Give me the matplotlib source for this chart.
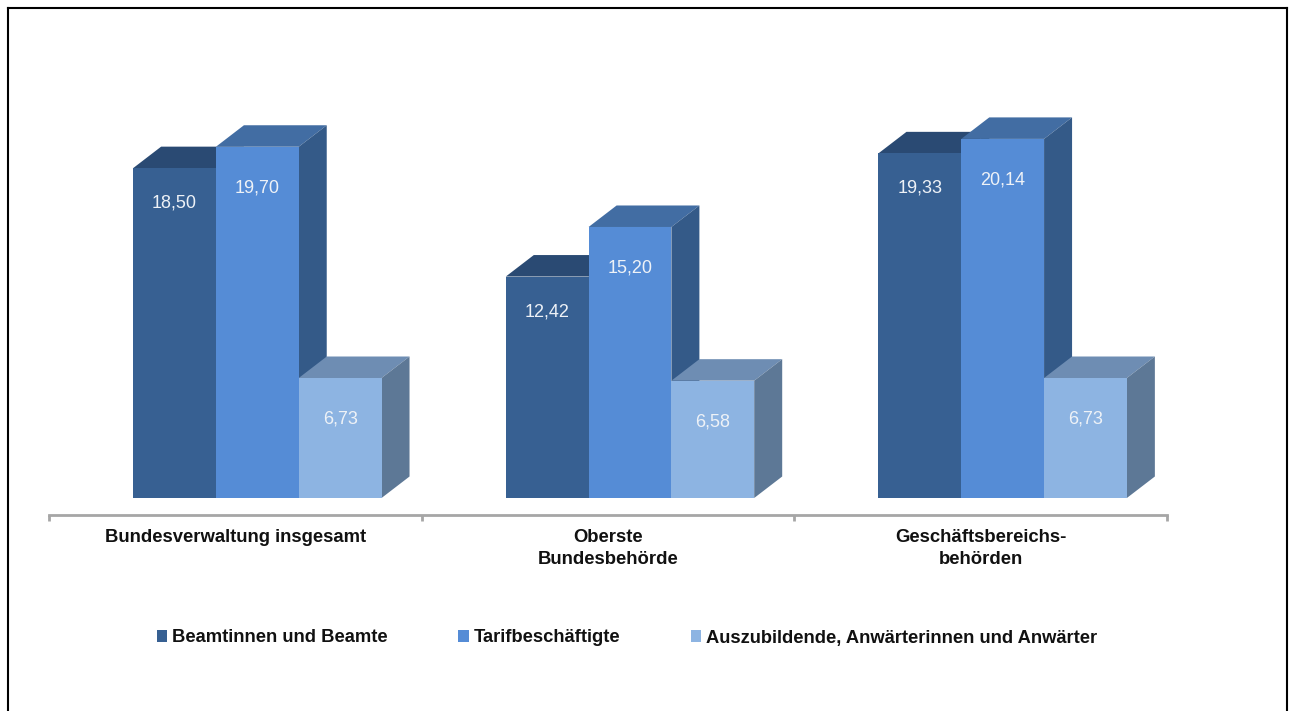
import matplotlib
matplotlib.use("Agg")
import matplotlib.pyplot as plt
from matplotlib.lines import Line2D
from matplotlib.patches import Patch, Polygon

categories = ["Bundesverwaltung insgesamt", "Oberste\nBundesbehörde", "Geschäftsbereichs-\nbehörden"]
series_names = ["Beamtinnen und Beamte", "Tarifbeschäftigte", "Auszubildende, Anwärterinnen und Anwärter"]
beamte = [18.50, 12.42, 19.33]
tarif = [19.70, 15.20, 20.14]
azubis = [6.73, 6.58, 6.73]
series = [beamte, tarif, azubis]

front_colors = ["#376092", "#558cd6", "#8db4e2"]
top_colors = ["#2a4a73", "#426da3", "#6e8db3"]
side_colors = ["#2d4f7c", "#345a88", "#5d7896"]

W, H = 1293, 711
plt.rcParams["font.family"] = ["Liberation Sans", "DejaVu Sans"]

fig = plt.figure(figsize=(W / 100, H / 100), dpi=100, facecolor="white")

# axes box in pixels: axis line at y=515, runs from x=49 to x=1167
ax = fig.add_axes([49 / W, 1 - 515 / H, (1167 - 49) / W, (515 - 60) / H])
px_x = 3 / (1167 - 49)  # one pixel in category units
px_y = 1 / 17.83  # one pixel in value units
ax.set_xlim(-0.5, 2.5)
ax.set_ylim(-17 * px_y, (498 - 60) * px_y)

bar_w = 82.8 * px_x
group_shift = 22 * px_x
dx = 28 * px_x
dy = 21.5 * px_y
label_drop = [35 * px_y, 41 * px_y, 41 * px_y]

for j, values in enumerate(series):
    for i, v in enumerate(values):
        left = i + group_shift + (j - 1.5) * bar_w
        right = left + bar_w
        ax.add_patch(Polygon([(left, v), (right, v), (right + dx, v + dy), (left + dx, v + dy)],
                             fc=top_colors[j], ec="none", zorder=2 + j))
        ax.add_patch(Polygon([(right, 0), (right + dx, dy), (right + dx, v + dy), (right, v)],
                             fc=side_colors[j], ec="none", zorder=2 + j))
        ax.bar(left, v, width=bar_w, align="edge", color=front_colors[j], zorder=2 + j)
        ax.text(left + bar_w / 2, v - label_drop[j], f"{v:.2f}".replace(".", ","),
                ha="center", va="center", color="#eef2f7", fontsize=13, zorder=10)

for s in ["top", "left", "right"]:
    ax.spines[s].set_visible(False)
ax.spines["bottom"].set_color("#a6a6a6")
ax.spines["bottom"].set_linewidth(2)
ax.set_yticks([])
ax.set_xticks([-0.5, 0.5, 1.5, 2.5])
ax.set_xticklabels([])
ax.tick_params(axis="x", which="major", length=4, width=2, color="#a6a6a6")
ax.set_xticks([0, 1, 2], minor=True)
ax.set_xticklabels(categories, minor=True, fontweight="bold", fontsize=13.3, color="#111111",
                   linespacing=1.39)
ax.tick_params(axis="x", which="minor", length=0, pad=10)

handles = [Patch(fc=c, ec="none") for c in front_colors]
fig.legend(handles, series_names, loc="center", bbox_to_anchor=(627 / W, 1 - 638 / H), ncol=3,
           frameon=False, handlelength=0.55, handleheight=0.6, handletextpad=0.27,
           columnspacing=3.85, prop={"weight": "bold", "size": 13.2})
for t in fig.legends[0].get_texts():
    t.set_color("#111111")

# image frame: left, top, right only, the bottom is cut off
frame = [((8, 8), (711, 8)), ((8, 1287), (8, 8)), ((1287, 1287), (8, 711))]
for xs, ys in frame:
    fig.add_artist(Line2D([x / W for x in xs], [1 - y / H for y in ys], color="black", lw=1.5,
                          transform=fig.transFigure))

fig.savefig("out.png", dpi=100)
